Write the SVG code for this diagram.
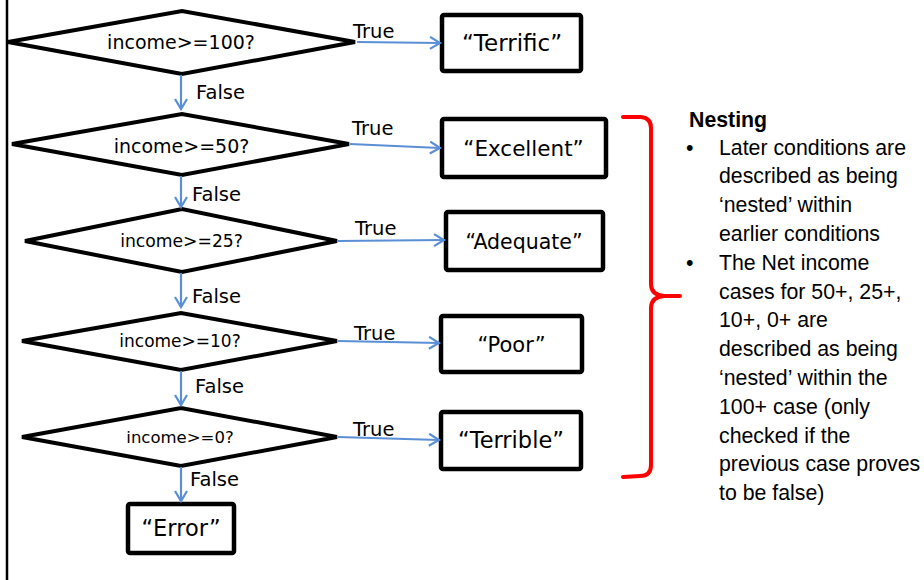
<svg xmlns="http://www.w3.org/2000/svg" width="924" height="580" viewBox="0 0 924 580">
<defs>
<marker id="ah" markerUnits="userSpaceOnUse" markerWidth="14" markerHeight="16" refX="11" refY="7" orient="auto">
<path d="M1,1 L11,7 L1,13" fill="none" stroke="#5A8FD6" stroke-width="2.2" stroke-linejoin="miter"/>
</marker>
</defs>
<style>
.dia{fill:#fff;stroke:#000;stroke-width:4;stroke-linejoin:miter}
.box{fill:#fff;stroke:#000;stroke-width:4.5}
.ft{font-family:"DejaVu Sans",sans-serif;fill:#000}
.c{text-anchor:middle}
.conn{stroke:#5A8FD6;stroke-width:2.2;fill:none;marker-end:url(#ah)}
.lbl{font-family:"DejaVu Sans",sans-serif;font-size:19.5px;fill:#000}
.note{font-family:"Liberation Sans",Arial,sans-serif;font-size:21.3px;fill:#000}
</style>
<rect width="924" height="580" fill="#fff"/>
<line x1="7" y1="0" x2="7" y2="580" stroke="#000" stroke-width="2.5"/>

<g id="d1"><polygon class="dia" points="8,42 182,11 355,42 182,74"/><text class="ft c" x="181" y="49" font-size="19">income&gt;=100?</text></g>
<g id="d2"><polygon class="dia" points="12,144 182,114 349,144 182,175"/><text class="ft c" x="181.5" y="153" font-size="19">income&gt;=50?</text></g>
<g id="d3"><polygon class="dia" points="25,241 182,209 337,241 182,272"/><text class="ft c" x="181.5" y="247" font-size="17.2">income&gt;=25?</text></g>
<g id="d4"><polygon class="dia" points="22,341 181,313 337,341 181,370"/><text class="ft c" x="180" y="347" font-size="17">income&gt;=10?</text></g>
<g id="d5"><polygon class="dia" points="22,437 181,408 337,437 181,466"/><text class="ft c" x="180" y="443" font-size="16.5">income&gt;=0?</text></g>

<g id="b1"><rect class="box" x="442" y="15" width="139" height="56" rx="2"/><text class="ft c" x="512" y="51" font-size="23">“Terrific”</text></g>
<g id="b2"><rect class="box" x="442" y="119" width="164" height="58" rx="2"/><text class="ft c" x="523.5" y="156" font-size="21.5">“Excellent”</text></g>
<g id="b3"><rect class="box" x="446" y="212" width="157" height="58" rx="2"/><text class="ft c" x="524" y="249" font-size="20.5">“Adequate”</text></g>
<g id="b4"><rect class="box" x="441" y="316" width="141" height="56" rx="2"/><text class="ft c" x="511.5" y="352" font-size="21">“Poor”</text></g>
<g id="b5"><rect class="box" x="441" y="412" width="140" height="57" rx="2"/><text class="ft c" x="511" y="448" font-size="22.5">“Terrible”</text></g>
<g id="b6"><rect class="box" x="128" y="504" width="106" height="49" rx="2"/><text class="ft c" x="181" y="536" font-size="22.5">“Error”</text></g>

<g id="connectors">
<line class="conn" x1="357" y1="42" x2="440" y2="43"/>
<line class="conn" x1="350" y1="144" x2="440" y2="148"/>
<line class="conn" x1="338" y1="241" x2="444" y2="240"/>
<line class="conn" x1="338" y1="341" x2="439" y2="343"/>
<line class="conn" x1="338" y1="437" x2="439" y2="440"/>
<line class="conn" x1="181" y1="75" x2="181" y2="109"/>
<line class="conn" x1="181" y1="176" x2="181" y2="207"/>
<line class="conn" x1="181" y1="273" x2="181" y2="307"/>
<line class="conn" x1="181" y1="371" x2="181" y2="405"/>
<line class="conn" x1="181" y1="467" x2="181" y2="501"/>
<text class="lbl" x="353" y="38">True</text>
<text class="lbl" x="352" y="135">True</text>
<text class="lbl" x="355" y="235">True</text>
<text class="lbl" x="354" y="340">True</text>
<text class="lbl" x="353" y="436">True</text>
<text class="lbl" x="196" y="99">False</text>
<text class="lbl" x="192" y="201">False</text>
<text class="lbl" x="192" y="303" font-size="21.5">False</text>
<text class="lbl" x="195" y="393">False</text>
<text class="lbl" x="190" y="486">False</text>
</g>

<g id="brace">
<path d="M623,117 L641,117 Q651,118 651,128 L651,284 Q651,295 664,296 L680,296 M664,296 Q651,297 651,308 L651,465 Q651,476 640,476 L623,477" fill="none" stroke="#FF0000" stroke-width="4" stroke-linecap="round"/>
</g>

<g id="notes">
<text class="note" x="689" y="127" font-weight="bold" font-size="20.5">Nesting</text>
<text class="note" x="686" y="154.6">•</text>
<text class="note" x="719" y="154.6">Later conditions are</text>
<text class="note" x="719" y="183.4">described as being</text>
<text class="note" x="719" y="212.2">‘nested’ within</text>
<text class="note" x="719" y="241">earlier conditions</text>
<text class="note" x="686" y="269.8">•</text>
<text class="note" x="719" y="269.8">The Net income</text>
<text class="note" x="719" y="298.6">cases for 50+, 25+,</text>
<text class="note" x="719" y="327.4">10+, 0+ are</text>
<text class="note" x="719" y="356.2">described as being</text>
<text class="note" x="719" y="385">‘nested’ within the</text>
<text class="note" x="719" y="413.8">100+ case (only</text>
<text class="note" x="719" y="442.6">checked if the</text>
<text class="note" x="719" y="471.4">previous case proves</text>
<text class="note" x="719" y="500.2">to be false)</text>
</g>
</svg>
